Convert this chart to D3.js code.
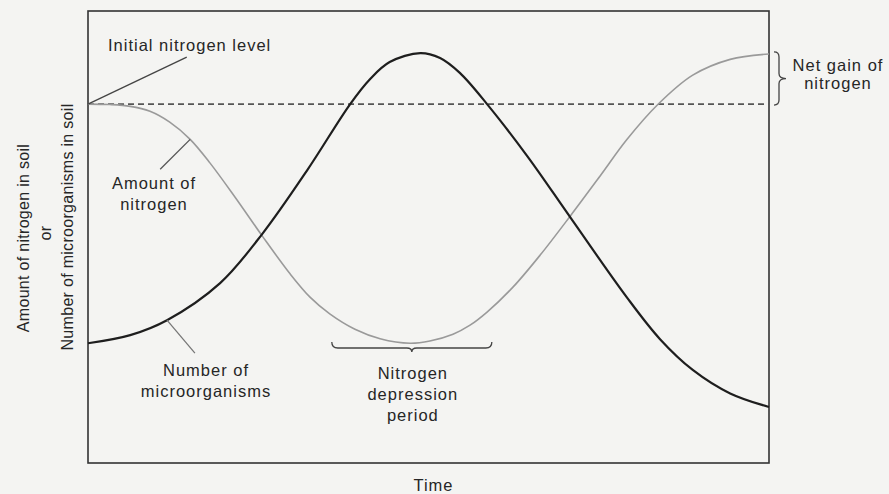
<!DOCTYPE html>
<html>
<head>
<meta charset="utf-8">
<script src="https://cdn.jsdelivr.net/npm/d3@7"></script>
<style>
  html, body { margin: 0; padding: 0; background: #f4f4f2; }
  svg { display: block; }
  text { font-family: "Liberation Sans", Arial, Helvetica, sans-serif; fill: #262626; }
</style>
</head>
<body>
<svg id="chart" width="889" height="494"></svg>
<script>
// Nitrogen in soil over time (relative units, time 0–100)
const nitrogenTime  = [0, 3.2, 6.2, 9.1, 12.0, 15.0, 17.9, 21.6, 25.6, 29.7, 32.6, 35.5, 39.2, 42.9, 47.3, 50.2, 53.6, 56.1, 58.6, 62.4, 66.4, 70.8, 75.2, 79.1, 83.6, 88.8, 94.3, 100];
const nitrogenLevel = [79.4, 79.3, 78.9, 77.8, 75.4, 71.6, 66.4, 58.8, 50.2, 41.8, 36.7, 33.0, 29.6, 27.5, 26.5, 27.0, 28.5, 30.5, 33.4, 38.9, 46.0, 54.6, 63.5, 71.5, 79.2, 85.8, 89.3, 90.5];

// Number of microorganisms in soil over time (relative units)
const microbeTime  = [0, 6.2, 11.6, 19.4, 25.6, 32.2, 38.5, 41.4, 44.3, 48.8, 51.7, 54.6, 58.6, 64.5, 70.8, 79.1, 84.0, 88.8, 94.3, 100];
const microbeCount = [26.5, 28.3, 31.6, 39.8, 50.7, 64.8, 79.4, 84.9, 88.7, 90.7, 89.6, 86.3, 79.4, 67.9, 54.4, 36.7, 27.4, 20.6, 15.4, 12.4];

// Span of the nitrogen depression period (time units)
const depressionPeriod = [35.8, 59.3];

const yAxisLines = ["Amount of nitrogen in soil", "or", "Number of microorganisms in soil"];
const xAxisTitle = "Time";

const svg = d3.select("#chart");
const margin = { left: 88, right: 120, top: 11, bottom: 31 };
const W = 889, H = 494;

const x = d3.scaleLinear().domain([0, 100]).range([margin.left, W - margin.right]);
const y = d3.scaleLinear().domain([0, 100]).range([H - margin.bottom, margin.top]);

const initialLevel = nitrogenLevel[0];
const finalLevel = nitrogenLevel[nitrogenLevel.length - 1];

// Plot frame
svg.append("rect")
  .attr("x", x(0)).attr("y", y(100))
  .attr("width", x(100) - x(0)).attr("height", y(0) - y(100))
  .attr("fill", "none").attr("stroke", "#333").attr("stroke-width", 1.6);

// Initial nitrogen level (dashed reference)
svg.append("line")
  .attr("x1", x(0)).attr("x2", x(100))
  .attr("y1", y(initialLevel)).attr("y2", y(initialLevel))
  .attr("stroke", "#555").attr("stroke-width", 1.6)
  .attr("stroke-dasharray", "6,4");

const line = d3.line().curve(d3.curveCatmullRom.alpha(0.5)).x(d => x(d[0])).y(d => y(d[1]));

// Amount of nitrogen (gray)
svg.append("path")
  .datum(d3.zip(nitrogenTime, nitrogenLevel))
  .attr("d", line)
  .attr("fill", "none").attr("stroke", "#9a9a9a").attr("stroke-width", 1.6);

// Number of microorganisms (black)
svg.append("path")
  .datum(d3.zip(microbeTime, microbeCount))
  .attr("d", line)
  .attr("fill", "none").attr("stroke", "#1e1e1e").attr("stroke-width", 2.2);

// Leader lines for the annotations
const leaders = [
  [[0, initialLevel], [14.5, 89.8], "#444"],
  [[15.0, 71.6], [10.6, 65.0], "#555"],
  [[11.6, 31.6], [15.7, 24.3], "#777"]
];
leaders.forEach(([a, b, c]) => {
  svg.append("line")
    .attr("x1", x(a[0])).attr("y1", y(a[1]))
    .attr("x2", x(b[0])).attr("y2", y(b[1]))
    .attr("stroke", c).attr("stroke-width", 1.3);
});

function label(lines, px, py, anchor, gap) {
  const t = svg.append("text")
    .attr("font-size", 16.5)
    .attr("letter-spacing", 1)
    .attr("text-anchor", anchor || "middle");
  lines.forEach((s, i) => {
    t.append("tspan").attr("x", px).attr("y", py + i * (gap || 21)).text(s);
  });
  return t;
}

label(["Initial nitrogen level"], 108, 51, "start");
label(["Amount of", "nitrogen"], 154, 189);
label(["Number of", "microorganisms"], 206, 376);
label(["Nitrogen", "depression", "period"], x((depressionPeriod[0] + depressionPeriod[1]) / 2) + 1, 379);
label(["Net gain of", "nitrogen"], 838, 71, "middle", 18);
label([xAxisTitle], (x(0) + x(100)) / 2 + 5, 491);

// Y axis title (three stacked rotated lines)
const yCenters = [238, 233, 227];
const yBase = [29, 51, 73];
yAxisLines.forEach((s, i) => {
  svg.append("text")
    .attr("font-size", 16)
    .attr("letter-spacing", 0.3)
    .attr("text-anchor", "middle")
    .attr("transform", `translate(${yBase[i]},${yCenters[i]}) rotate(-90)`)
    .text(s);
});

// Horizontal brace under the depression period (tip pointing down)
function hBrace(x1, x2, y0) {
  const xm = (x1 + x2) / 2, r = 6;
  return `M${x1},${y0 - r} Q${x1},${y0} ${x1 + r},${y0} L${xm - 5},${y0} Q${xm},${y0} ${xm},${y0 + 4}` +
         ` Q${xm},${y0} ${xm + 5},${y0} L${x2 - r},${y0} Q${x2},${y0} ${x2},${y0 - r}`;
}
svg.append("path")
  .attr("d", hBrace(x(depressionPeriod[0]), x(depressionPeriod[1]), 348))
  .attr("fill", "none").attr("stroke", "#444").attr("stroke-width", 1.3);

// Vertical brace marking the net gain (tip pointing right)
function vBrace(x0, y1, y2) {
  const ym = (y1 + y2) / 2, r = 5;
  return `M${x0 - r},${y1} Q${x0},${y1} ${x0},${y1 + r} L${x0},${ym - 5} Q${x0},${ym} ${x0 + 7},${ym}` +
         ` Q${x0},${ym} ${x0},${ym + 5} L${x0},${y2 - r} Q${x0},${y2} ${x0 - r},${y2}`;
}
svg.append("path")
  .attr("d", vBrace(x(100) + 10, y(finalLevel) - 2, y(initialLevel) + 1))
  .attr("fill", "none").attr("stroke", "#444").attr("stroke-width", 1.3);
</script>
</body>
</html>
